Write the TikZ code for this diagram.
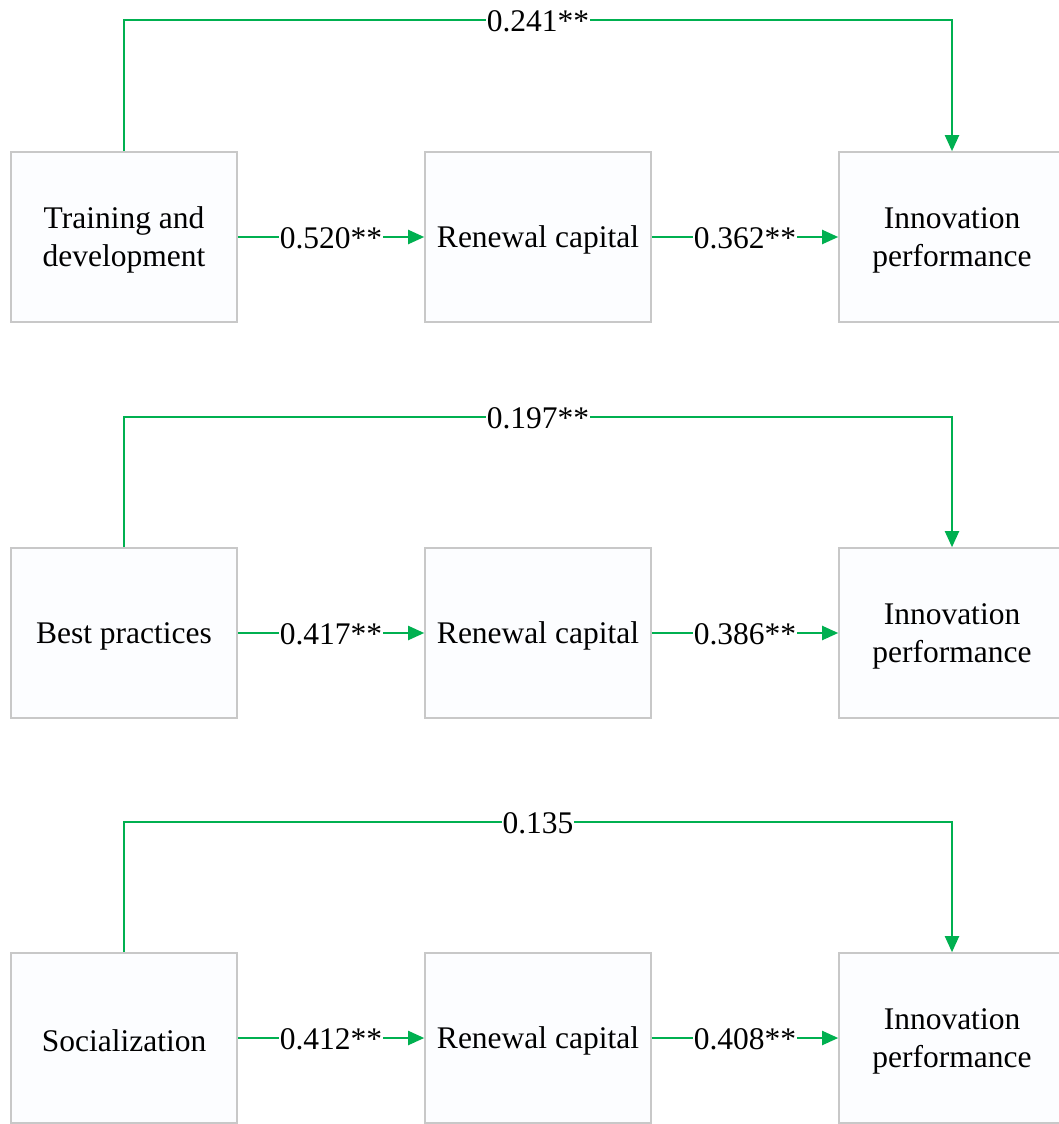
\documentclass[tikz,border=0pt]{standalone}
\usepackage{fontspec}
\setmainfont{Liberation Serif}
\usetikzlibrary{arrows.meta}
\definecolor{pathgreen}{HTML}{00B050}
\definecolor{boxline}{HTML}{C8C8C8}
\definecolor{boxfill}{HTML}{FCFDFF}
\tikzset{
  varbox/.style={draw=boxline, line width=1.6pt, fill=boxfill,
    minimum width=226pt, minimum height=170pt, inner sep=0pt},
  boxtext/.style={label={[align=center, yshift=-3pt,
    font=\fontsize{31.5}{38}\selectfont]center:#1}},
  link/.style={draw=pathgreen, line width=2pt,
    -{Triangle[length=16pt,width=14pt]}},
  coef/.style={fill=white, inner sep=1pt, text=black, yshift=-1pt,
    font=\fontsize{31.5}{38}\selectfont}
}
\begin{document}
\begin{tikzpicture}[x=1pt,y=-1pt]
\useasboundingbox (0,0) rectangle (1058,1124);
\fill[white] (0,0) rectangle (1058,1124);

% one mediation model per row: predictor -> renewal capital -> innovation performance
\foreach \row/\yc/\ytop/\pred/\direct/\first/\second in {
  1/237/20/{Training and\\development}/{0.241**}/{0.520**}/{0.362**},
  2/633/417/{Best practices}/{0.197**}/{0.417**}/{0.386**},
  3/1038/822/{Socialization}/{0.135}/{0.412**}/{0.408**}} {
  \node[varbox, boxtext={\pred}] (p\row) at (124,\yc) {};
  \node[varbox, boxtext={Renewal capital}] (r\row) at (538,\yc) {};
  \node[varbox, boxtext={Innovation\\performance}] (i\row) at (952,\yc) {};
  \coordinate (t\row) at (538,\ytop);
  \draw[link] (p\row.east) -- node[coef] {\first} (r\row.west);
  \draw[link] (r\row.east) -- node[coef] {\second} (i\row.west);
  \draw[link] (p\row.north) -- (p\row.north |- t\row)
    -- node[coef] {\direct} (i\row.north |- t\row) -- (i\row.north);
}
\end{tikzpicture}
\end{document}
